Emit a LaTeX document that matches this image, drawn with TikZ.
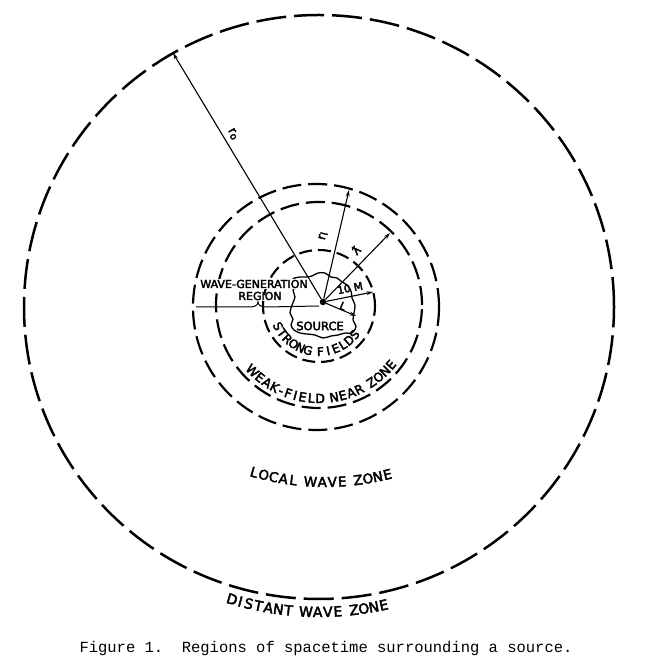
\documentclass[tikz,border=0pt]{standalone}
\usepackage{fontspec}
\usetikzlibrary{arrows.meta}
\newfontfamily\lett{DejaVu Sans}[FakeBold=3]
\newfontfamily\captf{Liberation Mono}
\newcommand\fStrong{\lett\fontsize{12}{13}\selectfont}
\newcommand\fWeak{\lett\fontsize{12.5}{14}\selectfont}
\newcommand\fLocal{\lett\fontsize{13.5}{15}\selectfont}
\newcommand\fDistant{\lett\fontsize{14}{16}\selectfont}
\begin{document}
\begin{tikzpicture}[x=1pt,y=1pt,
  bigzone/.style={line width=2.5pt,dash pattern=on 30pt off 8pt},
  midzone/.style={line width=2.2pt,dash pattern=on 19pt off 7pt},
  innerzone/.style={line width=2.1pt,dash pattern=on 13pt off 6pt},
  arr/.style={line width=1.1pt,-{Stealth[length=6.5pt,width=3.8pt]}},
  lbl/.style={font=\lett\fontsize{12}{13}\selectfont,inner sep=0.5pt},
  region/.style={font=\lett\fontsize{11}{12}\selectfont,inner sep=1pt},
  zlet/.style={anchor=base,inner sep=0pt}
  ]
\useasboundingbox (0,0) rectangle (646,664);
\fill[white] (0,0) rectangle (646,664);
\coordinate (CB) at (319,357);
\coordinate (CS) at (319,358);
\coordinate (CW) at (319,359);
\coordinate (CL) at (325,442);
% zone boundaries
\draw[bigzone] (CB) ellipse [x radius=295pt, y radius=292pt];
\draw[midzone] (316,357) circle[radius=123pt];
\draw[midzone] (CW) circle[radius=103pt];
\draw[innerzone] (CS) circle[radius=56pt];
% source
\draw[line width=1.3pt,line join=round] plot[smooth cycle,tension=0.55] coordinates {
 (292,359) (295,367) (293,374) (297,379) (293,385) (300,387) (306,387) (312,388)
 (318,391) (325,391) (331,387) (337,386) (342,382) (347,379) (351,373) (352,366)
 (355,359) (354,351) (353,344) (356,337) (352,331) (345,331) (338,329) (331,328)
 (323,326) (315,329) (307,330) (300,331) (294,334) (291,339) (293,345) (290,351)};
\node[circle,fill,inner sep=0pt,minimum size=6.5pt] (O) at (323,362) {};
% arrow end points
\coordinate (tR0) at (173,611);
\coordinate (tRI) at (349,474);
\coordinate (tLam) at (390,431);
\coordinate (tTen) at (373,372);
\coordinate (tL) at (356,348);
\draw[arr] (O) -- (tR0);
\draw[arr] (O) -- (tRI);
\draw[arr] (O) -- (tLam);
\draw[arr] (O) -- (tTen);
\draw[arr] (O) -- (tL);
% wave generation radius
\coordinate (hL) at (196,357);
\coordinate (hR) at (319,358);
\draw[line width=1pt] (hL) -- (250,357) .. controls (255,357) and (258,359) .. (258,362)
  .. controls (258,359) and (261,357) .. (266,357) -- (hR);
% labels
\node[lbl,rotate=-59] (lr0) at (233,530) {r{\fontsize{10}{11}\selectfont\raisebox{-1.5pt}{o}}};
\node[lbl,rotate=77] (lrI) at (323,428) {r{\fontsize{10}{11}\selectfont\raisebox{-1.5pt}{I}}};
\node[lbl,rotate=46] (llam) at (356,414) {ƛ};
\node[lbl,rotate=11,font=\lett\fontsize{10.5}{12}\selectfont] (lten) at (350,376) {10 M};
\node[lbl,rotate=-23,font=\lett\fontsize{10.5}{12}\selectfont] (lL) at (343,358) {L};
\node[region,fill=white] (wg) at (254,380) {WAVE-GENERATION};
\node[region] (rg) at (260,368) {REGION};
\node[region,font=\lett\fontsize{11.5}{12}\selectfont] (src) at (320,338) {SOURCE};
% curved zone names, letter by letter
\foreach \c/\a [count=\i] in {S/206.4,T/216.3,R/226.2,O/236.1,N/246.0,G/255.9,
    F/271.7,I/281.6,E/291.5,L/301.4,D/311.3,S/321.2}
  \node[zlet,font=\fStrong,rotate=\a+90] (sf\i) at ([shift={(\a:50pt)}]CS) {\c};
\foreach \c/\a [count=\i] in {W/224.6,E/230.8,A/236.2,K/241.6,-/246.2,F/250.8,I/255.3,
    E/259.9,L/265.3,D/270.7,N/279.3,E/284.7,A/290.1,R/295.5,Z/304.1,O/309.5,N/314.9,E/320.3}
  \node[zlet,font=\fWeak,rotate=\a+90] (wf\i) at ([shift={(\a:98pt)}]CW) {\c};
\foreach \c/\a [count=\i] in {L/254.2,O/256.4,C/258.6,A/260.8,L/263.0,
    W/266.8,A/269.4,V/271.6,E/273.8,Z/277.3,O/279.5,N/281.7,E/283.9}
  \node[zlet,font=\fLocal,rotate=\a+90] (lw\i) at ([shift={(\a:265pt)}]CL) {\c};
\foreach \c/\a [count=\i] in {D/253.45,I/255.05,S/256.7,T/258.55,A/260.45,N/262.35,T/264.25,
    W/267.55,A/269.75,V/271.65,E/273.55,Z/276.6,O/278.45,N/280.35,E/282.25}
  \node[zlet,font=\fDistant,rotate=\a+90] (dw\i) at ([shift={(\a:310pt)}]CB) {\c};
% caption
\node[font=\captf\fontsize{15.5}{18}\selectfont,anchor=base,inner sep=0pt] (cap) at (326,12)
  {\frenchspacing Figure 1.\ \ Regions of spacetime surrounding a source.};
\end{tikzpicture}
\end{document}
